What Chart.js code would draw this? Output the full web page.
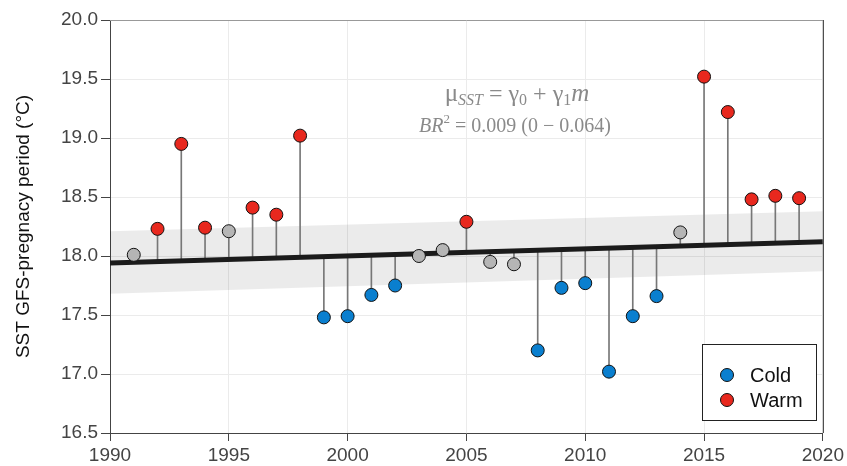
<!DOCTYPE html>
<html>
<head>
<meta charset="utf-8">
<script src="https://cdn.jsdelivr.net/npm/chart.js@4.4.0/dist/chart.umd.min.js"></script>
<style>
  html, body { margin: 0; padding: 0; background: #fff; }
  #wrap { width: 847px; height: 466px; }
</style>
</head>
<body>
<div id="wrap"><canvas id="sstChart" width="847" height="466"></canvas></div>
<script>
// data
const years = [1991, 1992, 1993, 1994, 1995, 1996, 1997, 1998, 1999, 2000,
               2001, 2002, 2003, 2004, 2005, 2006, 2007, 2008, 2009, 2010,
               2011, 2012, 2013, 2014, 2015, 2016, 2017, 2018, 2019];
const sst = [18.01, 18.23, 18.95, 18.24, 18.21, 18.41, 18.35, 19.02, 17.48, 17.49,
             17.67, 17.75, 18.00, 18.05, 18.29, 17.95, 17.93, 17.20, 17.73, 17.77,
             17.02, 17.49, 17.66, 18.20, 19.52, 19.22, 18.48, 18.51, 18.49];
const phase = ['N', 'W', 'W', 'W', 'N', 'W', 'W', 'W', 'C', 'C',
               'C', 'C', 'N', 'N', 'W', 'N', 'N', 'C', 'C', 'C',
               'C', 'C', 'C', 'N', 'W', 'W', 'W', 'W', 'W'];
const fitYears = [1990, 2020];
const fitValues = [17.94, 18.12];
const bandUpper = [18.21, 18.38];
const bandLower = [17.68, 17.87];
const yTicks = [16.5, 17.0, 17.5, 18.0, 18.5, 19.0, 19.5, 20.0];
const xTicks = [1990, 1995, 2000, 2005, 2010, 2015, 2020];
const legendLabels = ['Cold', 'Warm'];

const phaseColors = { C: '#0a7fcf', W: '#e8281e', N: '#b5b5b5' };
const sans = '"Liberation Sans", Arial, sans-serif';

// stem base = fitted line at that year
function fitAt(yr) {
  const t = (yr - fitYears[0]) / (fitYears[1] - fitYears[0]);
  return fitValues[0] + t * (fitValues[1] - fitValues[0]);
}

const annotationPlugin = {
  id: 'annotation',
  afterDraw(chart) {
    const c = chart.ctx;
    const grey = '#8a8a8a';
    function drawPieces(pieces, cx, base) {
      let w = 0;
      pieces.forEach(p => { c.font = p.font; w += c.measureText(p.t).width; });
      let x = cx - w / 2;
      c.fillStyle = grey;
      c.textBaseline = 'alphabetic';
      c.textAlign = 'left';
      pieces.forEach(p => {
        c.font = p.font;
        c.fillText(p.t, x, base + (p.dy || 0));
        x += c.measureText(p.t).width;
      });
    }
    const serif = '"Liberation Serif", "DejaVu Serif", serif';
    c.save();
    drawPieces([
      { t: 'μ', font: '25px ' + serif },
      { t: 'SST', font: 'italic 16px ' + serif, dy: 4 },
      { t: ' = ', font: '24px ' + serif },
      { t: 'γ', font: '24px ' + serif },
      { t: '0', font: '16px ' + serif, dy: 4 },
      { t: ' + ', font: '24px ' + serif },
      { t: 'γ', font: '24px ' + serif },
      { t: '1', font: '16px ' + serif, dy: 4 },
      { t: 'm', font: 'italic 25px ' + serif }
    ], 517, 101);
    drawPieces([
      { t: 'BR', font: 'italic 20px ' + serif },
      { t: '2', font: '13px ' + serif, dy: -9 },
      { t: ' = 0.009 (0 − 0.064)', font: '20px ' + serif }
    ], 515, 132);

    // legend box
    c.fillStyle = '#fff';
    c.fillRect(702, 344, 115, 77);
    c.strokeStyle = '#222';
    c.lineWidth = 1;
    c.strokeRect(702.5, 344.5, 114, 76);
    const lc = [phaseColors.C, phaseColors.W];
    legendLabels.forEach((lab, i) => {
      const y = 375 + i * 25;
      c.beginPath();
      c.arc(727, y, 6.5, 0, Math.PI * 2);
      c.fillStyle = lc[i];
      c.fill();
      c.strokeStyle = '#111';
      c.stroke();
      c.fillStyle = '#111';
      c.font = '20px ' + sans;
      c.textBaseline = 'middle';
      c.fillText(lab, 750, y + 1);
    });

    // top and right frame
    const a = chart.chartArea;
    c.strokeStyle = '#999';
    c.beginPath();
    c.moveTo(a.left, a.top + 0.5);
    c.lineTo(a.right, a.top + 0.5);
    c.stroke();
    c.strokeStyle = '#333';
    c.beginPath();
    c.moveTo(a.right + 0.5, a.top);
    c.lineTo(a.right + 0.5, a.bottom);
    c.stroke();
    c.restore();
  }
};

const ctx = document.getElementById('sstChart').getContext('2d');
const sstChart = new Chart(ctx, {
  data: {
    datasets: [
      {
        type: 'line',
        data: fitYears.map((x, i) => ({ x: x, y: bandUpper[i] })),
        borderWidth: 0,
        pointRadius: 0,
        fill: false,
        order: 6
      },
      {
        type: 'line',
        data: fitYears.map((x, i) => ({ x: x, y: bandLower[i] })),
        borderWidth: 0,
        pointRadius: 0,
        backgroundColor: 'rgba(0,0,0,0.08)',
        fill: '-1',
        order: 5
      },
      {
        type: 'bar',
        data: years.map((x, i) => ({ x: x, y: [fitAt(x), sst[i]] })),
        backgroundColor: '#777',
        barThickness: 1,
        order: 4
      },
      {
        type: 'line',
        data: fitYears.map((x, i) => ({ x: x, y: fitValues[i] })),
        borderColor: '#1b1b1b',
        borderWidth: 5,
        pointRadius: 0,
        fill: false,
        order: 3
      },
      {
        type: 'scatter',
        data: years.map((x, i) => ({ x: x, y: sst[i] })),
        pointRadius: 6.5,
        pointBackgroundColor: phase.map(p => phaseColors[p]),
        pointBorderColor: '#111',
        pointBorderWidth: 1,
        order: 1
      }
    ]
  },
  options: {
    responsive: false,
    animation: false,
    layout: { padding: { top: 20, right: 24, bottom: 0, left: 0 } },
    plugins: { legend: { display: false }, tooltip: { enabled: false } },
    scales: {
      x: {
        type: 'linear',
        min: 1990,
        max: 2020,
        offset: false,
        afterBuildTicks: s => { s.ticks = xTicks.map(v => ({ value: v })); },
        ticks: {
          color: '#444',
          font: { size: 19, family: sans },
          padding: 3,
          maxRotation: 0,
          callback: v => String(v)
        },
        grid: { color: '#ebebeb', tickColor: '#444', tickLength: 8, offset: false },
        border: { color: '#444', width: 1 },
        afterFit: s => { s.height = 33; }
      },
      y: {
        min: 16.5,
        max: 20.0,
        afterBuildTicks: s => { s.ticks = yTicks.map(v => ({ value: v })); },
        ticks: {
          color: '#444',
          font: { size: 19, family: sans },
          padding: 3,
          callback: v => v.toFixed(1)
        },
        grid: { color: '#ebebeb', tickColor: '#444', tickLength: 9 },
        border: { color: '#444', width: 1 },
        title: {
          display: true,
          text: 'SST GFS-pregnacy period (°C)',
          color: '#111',
          font: { size: 19, family: sans },
          padding: { top: 12, bottom: 0 }
        },
        afterFit: s => { s.width = 110; }
      }
    }
  },
  plugins: [annotationPlugin]
});
</script>
</body>
</html>
